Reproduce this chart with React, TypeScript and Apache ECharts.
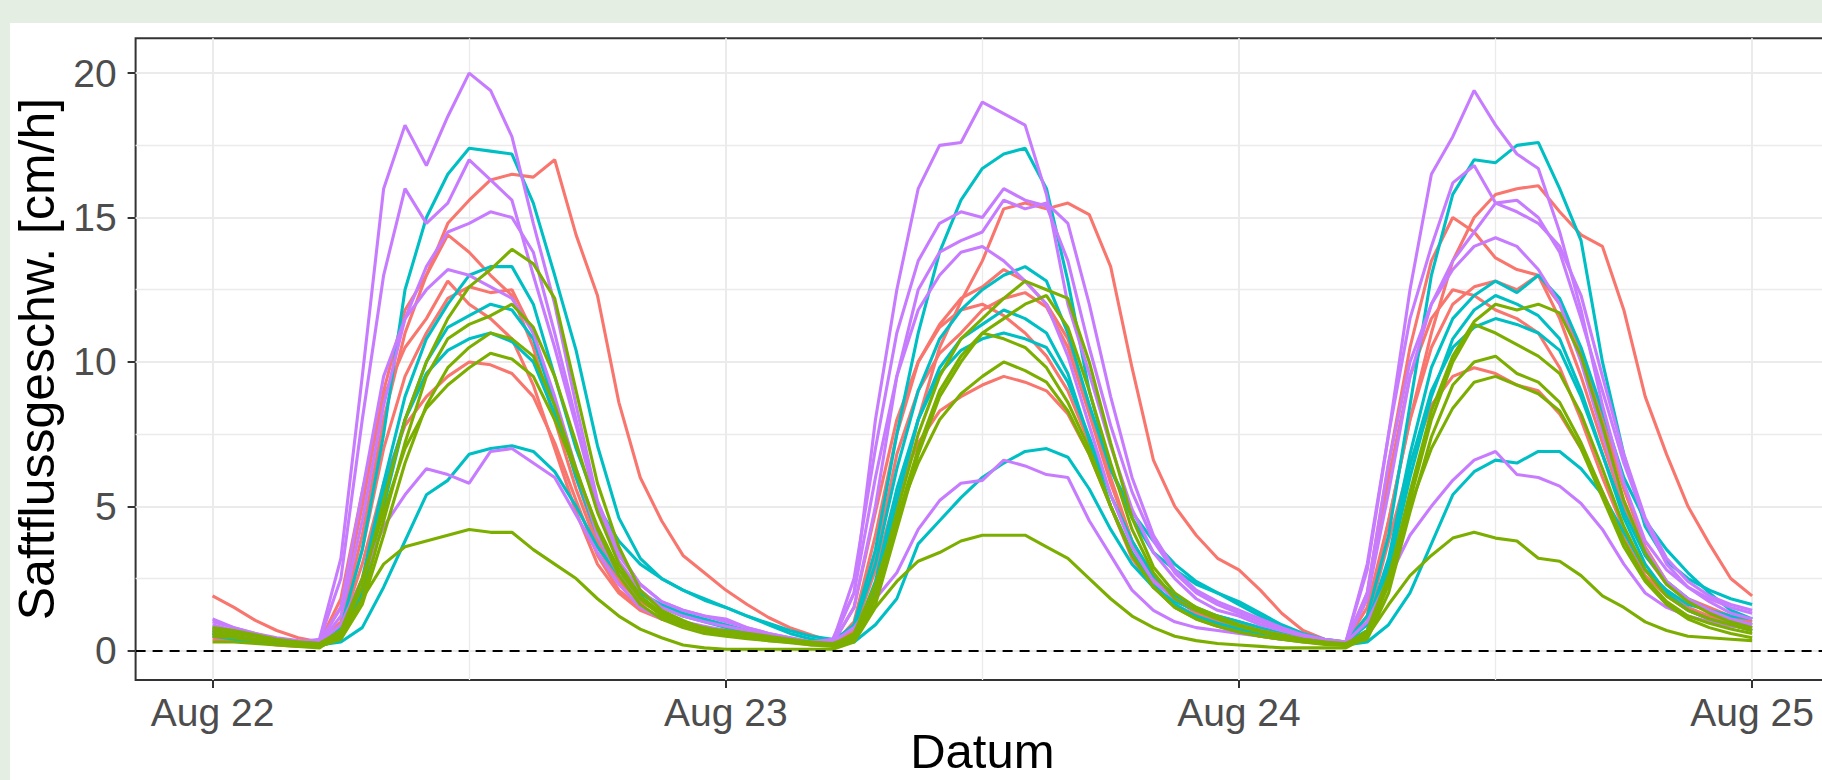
import React, { useEffect, useRef } from "react";
import * as echarts from "echarts";

// Hours since Aug 22 00:00 (hourly readings)
const HOURS: number[] = Array.from({ length: 73 }, (_, i) => i);

const X_TICKS = [0, 24, 48, 72];
const X_TICK_LABELS = ["Aug 22", "Aug 23", "Aug 24", "Aug 25"];
const X_MINOR = [12, 36, 60];
const Y_TICKS = [0, 5, 10, 15, 20];
const Y_MINOR = [2.5, 7.5, 12.5, 17.5];

// red group
const R1 = [1.9,1.5,1.05,0.7,0.45,0.3,1.0,4.0,8.0,11.0,13.0,14.8,15.6,16.3,16.5,16.4,17.0,14.4,12.3,8.6,6.0,4.5,3.3,2.7,
2.1,1.6,1.15,0.8,0.55,0.3,0.6,2.2,5.0,8.0,10.5,12.1,13.5,15.3,15.5,15.3,15.5,15.1,13.3,9.8,6.6,5.0,4.0,3.2,
2.8,2.1,1.3,0.7,0.4,0.3,1.5,4.5,8.0,11.0,13.5,15.0,15.8,16.0,16.1,15.2,14.4,14.0,11.8,8.8,6.8,5.0,3.7,2.5,
1.9];
const R2 = [0.6,0.5,0.4,0.3,0.2,0.3,1.5,5.0,9.0,11.8,13.0,14.4,13.8,13.0,12.3,10.5,8.0,5.6,3.6,2.4,1.7,1.3,1.0,0.8,
0.7,0.55,0.45,0.35,0.3,0.2,1.0,4.0,7.5,10.0,11.3,12.2,12.6,13.2,12.8,12.0,10.8,8.5,6.0,3.8,2.5,1.8,1.3,1.0,
0.8,0.6,0.5,0.4,0.3,0.3,2.0,6.5,10.5,13.5,15.0,14.5,13.6,13.2,13.0,11.5,9.5,7.2,5.0,3.3,2.3,1.7,1.4,1.2,
1.1];
const R3 = [0.5,0.45,0.35,0.25,0.2,0.2,0.9,3.5,7.0,9.5,11.0,12.2,12.6,12.4,12.5,11.0,8.5,6.0,3.8,2.5,1.8,1.3,1.0,0.8,
0.7,0.55,0.45,0.35,0.25,0.2,0.8,3.2,6.8,9.0,10.3,11.0,11.8,12.2,12.4,11.9,10.5,8.2,5.8,3.8,2.5,1.8,1.4,1.1,
0.9,0.7,0.5,0.4,0.3,0.25,1.2,4.5,8.0,10.5,12.0,12.6,12.8,12.5,13.0,12.0,10.4,8.0,5.6,3.6,2.4,1.8,1.5,1.2,
1.0];
const R4 = [0.7,0.6,0.45,0.35,0.25,0.3,1.8,5.5,8.8,10.5,11.5,12.8,12.0,11.5,10.8,9.2,7.0,4.8,3.0,2.0,1.4,1.1,0.9,0.7,
0.6,0.5,0.4,0.3,0.25,0.25,1.5,4.8,8.0,10.0,11.2,11.8,12.0,11.6,11.0,10.2,9.0,7.2,5.0,3.2,2.2,1.6,1.2,0.9,
0.7,0.55,0.45,0.35,0.3,0.3,1.8,6.0,9.5,11.5,12.5,12.3,11.8,11.5,11.0,9.8,8.0,6.0,4.2,2.8,2.0,1.5,1.2,1.0,
0.8];
const R5 = [0.4,0.35,0.3,0.2,0.15,0.15,0.8,3.0,5.8,7.8,8.8,9.5,10.0,9.9,9.6,8.8,7.2,5.2,3.3,2.1,1.5,1.1,0.9,0.7,
0.6,0.5,0.4,0.3,0.2,0.2,0.7,2.8,5.5,7.2,8.3,8.8,9.2,9.5,9.3,9.0,8.2,6.8,5.0,3.3,2.2,1.6,1.2,0.9,
0.7,0.55,0.45,0.35,0.25,0.25,1.0,3.8,6.5,8.5,9.5,9.8,9.6,9.2,9.0,8.2,7.0,5.5,3.9,2.6,1.9,1.4,1.1,0.9,
0.7];

// green group
const G1 = [0.8,0.7,0.55,0.4,0.3,0.25,0.6,2.2,5.2,8.0,10.0,11.5,12.6,13.2,13.9,13.4,12.2,9.0,5.8,3.6,2.1,1.4,1.05,0.75,
0.7,0.6,0.5,0.4,0.3,0.25,0.5,2.0,4.8,7.5,9.5,10.8,11.5,12.2,12.8,12.5,12.2,10.0,7.2,4.6,2.9,2.0,1.5,1.2,
0.9,0.7,0.55,0.4,0.3,0.25,0.6,2.5,5.5,8.3,10.2,11.4,12.0,11.8,12.0,11.7,10.2,7.8,5.2,3.4,2.3,1.7,1.3,1.0,
0.8];
const G2 = [0.6,0.5,0.4,0.3,0.25,0.2,0.5,1.8,4.5,7.2,9.5,10.8,11.3,11.6,12.0,11.2,9.5,7.2,4.8,3.0,1.9,1.3,1.0,0.8,
0.65,0.55,0.45,0.35,0.3,0.2,0.4,1.8,4.5,7.0,9.0,10.2,11.0,11.5,12.0,12.3,11.2,9.0,6.5,4.2,2.7,1.8,1.4,1.1,
0.85,0.65,0.5,0.4,0.3,0.2,0.5,2.3,5.2,8.0,10.0,11.3,11.0,10.6,10.2,9.6,8.2,6.3,4.3,2.8,1.9,1.4,1.1,0.9,
0.7];
const G3 = [0.5,0.45,0.35,0.3,0.2,0.15,0.4,1.6,4.0,6.5,8.5,9.8,10.5,11.0,10.8,10.2,8.5,6.3,4.2,2.6,1.6,1.1,0.8,0.6,
0.5,0.42,0.35,0.28,0.2,0.15,0.35,1.6,4.2,6.8,8.8,10.0,11.0,10.8,10.5,9.8,8.6,7.0,5.0,3.3,2.2,1.5,1.1,0.85,
0.65,0.5,0.4,0.3,0.22,0.18,0.4,2.0,4.8,7.4,9.2,10.0,10.2,9.6,9.3,8.6,7.2,5.5,3.8,2.5,1.7,1.2,0.95,0.75,
0.6];
const G4 = [0.7,0.6,0.5,0.35,0.3,0.25,0.7,2.5,4.8,7.0,8.4,9.2,9.8,10.3,10.1,9.5,8.0,6.2,4.3,2.8,1.8,1.2,0.9,0.7,
0.55,0.45,0.35,0.3,0.25,0.2,0.6,2.3,4.6,6.5,8.0,8.9,9.5,10.0,9.7,9.3,8.3,6.8,5.0,3.3,2.2,1.5,1.1,0.85,
0.65,0.5,0.4,0.3,0.25,0.2,0.7,2.6,5.0,7.0,8.4,9.3,9.5,9.2,8.9,8.3,7.0,5.3,3.6,2.4,1.6,1.1,0.8,0.6,
0.45];
const G5 = [0.3,0.3,0.25,0.2,0.15,0.1,0.6,1.8,3.0,3.6,3.8,4.0,4.2,4.1,4.1,3.5,3.0,2.5,1.8,1.2,0.75,0.45,0.2,0.1,
0.05,0.05,0.05,0.05,0.05,0.05,0.3,1.5,2.4,3.1,3.4,3.8,4.0,4.0,4.0,3.6,3.2,2.5,1.8,1.2,0.8,0.5,0.35,0.25,
0.2,0.15,0.1,0.1,0.1,0.1,0.5,1.6,2.6,3.3,3.9,4.1,3.9,3.8,3.2,3.1,2.6,1.9,1.5,1.0,0.7,0.5,0.45,0.4,
0.35];

// cyan group
const C1 = [0.8,0.65,0.5,0.4,0.3,0.25,0.8,3.5,7.5,12.5,15.0,16.5,17.4,17.3,17.2,15.5,13.0,10.4,7.1,4.6,3.2,2.5,2.1,1.75,
1.5,1.2,0.9,0.6,0.4,0.3,0.9,3.5,7.5,11.0,13.8,15.6,16.7,17.2,17.4,16.0,12.8,9.0,6.3,4.6,3.4,2.8,2.3,2.0,
1.6,1.2,0.8,0.5,0.35,0.3,1.2,4.0,8.5,13.0,15.8,17.0,16.9,17.5,17.6,16.0,14.2,10.0,6.8,4.3,3.1,2.5,2.1,1.8,
1.6];
const C2 = [0.6,0.5,0.4,0.3,0.25,0.2,0.6,2.5,5.8,8.8,10.8,12.0,13.0,13.3,13.3,12.0,9.5,7.0,5.0,3.8,3.0,2.5,2.1,1.8,
1.5,1.2,0.95,0.7,0.5,0.4,0.8,3.0,6.3,9.0,10.8,11.8,12.5,13.0,13.3,12.8,11.0,8.5,6.3,4.8,3.8,3.0,2.4,2.0,
1.7,1.3,0.9,0.6,0.4,0.3,0.9,3.2,6.8,9.8,11.5,12.3,12.8,12.4,13.0,12.2,10.5,8.3,6.0,4.5,3.5,2.7,2.0,1.4,
1.1];
const C3 = [0.5,0.4,0.3,0.25,0.2,0.15,0.4,2.0,5.0,8.0,10.0,11.2,11.6,12.0,11.8,10.8,8.5,6.0,4.0,2.6,1.8,1.3,1.0,0.8,
0.65,0.5,0.4,0.3,0.25,0.2,0.5,2.2,5.2,8.0,9.8,10.8,11.3,11.8,11.5,11.0,9.6,7.3,5.0,3.4,2.3,1.6,1.2,0.95,
0.75,0.6,0.45,0.35,0.25,0.2,0.6,2.8,6.0,8.8,10.8,11.8,12.3,12.0,11.6,10.8,9.0,6.8,4.6,3.0,2.0,1.4,1.1,0.9,
0.7];
const C4 = [0.7,0.55,0.45,0.35,0.3,0.2,0.5,2.2,5.5,8.0,9.6,10.4,10.8,11.0,10.7,10.0,8.2,6.1,4.2,2.8,2.0,1.5,1.2,1.0,
0.8,0.65,0.5,0.4,0.3,0.2,0.5,2.4,5.6,8.0,9.6,10.4,10.8,11.0,10.8,10.5,9.3,7.4,5.4,3.8,2.6,1.9,1.5,1.2,
1.0,0.8,0.6,0.45,0.35,0.3,0.7,3.0,6.4,9.0,10.5,11.2,11.5,11.3,11.0,10.4,8.8,6.8,4.8,3.3,2.4,1.8,1.4,1.1,
0.9];
const C5 = [0.6,0.5,0.4,0.3,0.25,0.2,0.3,0.8,2.2,3.8,5.4,5.9,6.8,7.0,7.1,6.9,6.2,5.0,3.6,2.6,2.0,1.6,1.3,1.1,
0.9,0.7,0.5,0.4,0.25,0.2,0.3,0.9,1.8,3.7,4.5,5.3,6.0,6.5,6.9,7.0,6.7,5.6,4.2,3.0,2.2,1.7,1.4,1.2,
1.0,0.8,0.6,0.45,0.3,0.2,0.3,0.9,2.0,3.7,5.4,6.2,6.6,6.5,6.9,6.9,6.3,5.4,4.1,2.8,2.1,1.6,1.4,1.2,
1.1];

// purple group
const P1 = [1.1,0.8,0.6,0.4,0.3,0.4,3.2,9.5,16.0,18.2,16.8,18.5,20.0,19.4,17.8,14.8,12.0,8.5,5.2,3.4,2.3,1.7,1.4,1.2,
1.1,0.8,0.6,0.45,0.3,0.4,2.0,8.0,12.5,16.0,17.5,17.6,19.0,18.6,18.2,15.8,12.0,9.6,7.1,4.9,3.4,2.5,1.8,1.4,
1.2,0.9,0.7,0.5,0.35,0.3,3.0,7.5,12.5,16.5,17.8,19.4,18.2,17.2,16.7,14.5,11.8,8.5,5.8,3.8,2.8,2.2,1.7,1.3,
1.1];
const P2 = [0.9,0.7,0.5,0.35,0.3,0.35,2.5,8.0,13.0,16.0,14.8,15.5,17.0,16.3,15.6,13.0,10.5,7.8,5.0,3.3,2.3,1.7,1.4,1.2,
1.0,0.8,0.6,0.45,0.3,0.3,2.5,7.0,11.0,13.5,14.8,15.2,15.0,16.0,15.6,15.4,13.5,10.5,7.8,5.5,3.8,2.7,2.0,1.6,
1.3,1.0,0.75,0.5,0.35,0.3,2.8,7.5,11.5,14.0,16.2,16.8,15.5,15.2,14.8,14.0,12.3,9.5,6.8,4.6,3.2,2.4,1.9,1.6,
1.4];
const P3 = [0.7,0.55,0.45,0.35,0.25,0.25,1.2,4.5,8.5,11.5,13.3,14.5,14.8,15.2,15.0,13.8,11.0,8.0,5.0,3.1,2.1,1.5,1.2,1.0,
0.85,0.7,0.55,0.4,0.3,0.25,1.5,5.0,9.5,12.5,13.8,14.2,14.5,15.6,15.3,15.5,14.8,12.0,8.8,6.0,4.0,2.8,2.1,1.7,
1.4,1.1,0.8,0.55,0.4,0.3,1.8,5.5,9.5,12.0,13.5,14.5,15.5,15.6,15.0,13.8,11.5,9.0,6.5,4.5,3.0,2.2,1.8,1.5,
1.3];
const P4 = [1.0,0.8,0.6,0.45,0.35,0.3,0.9,2.5,4.3,5.4,6.3,6.1,5.8,6.9,7.0,6.5,6.0,4.7,3.4,2.3,1.5,1.1,0.9,0.75,
0.65,0.55,0.45,0.35,0.3,0.3,0.8,1.8,2.7,4.2,5.2,5.8,5.9,6.6,6.4,6.1,6.0,4.5,3.3,2.1,1.4,1.0,0.8,0.7,
0.6,0.5,0.4,0.35,0.3,0.3,1.0,2.5,4.0,5.0,5.9,6.6,6.9,6.1,6.0,5.7,5.1,4.2,3.0,2.0,1.5,1.2,1.0,0.85,
0.8];
const P5 = [0.8,0.6,0.5,0.4,0.3,0.3,1.5,5.5,9.5,11.5,12.5,13.2,13.0,12.6,12.2,11.0,8.8,6.3,4.0,2.6,1.8,1.3,1.0,0.85,
0.7,0.55,0.45,0.35,0.3,0.3,2.0,6.0,9.5,11.8,13.0,13.8,14.0,13.5,12.8,12.0,10.2,7.8,5.4,3.6,2.4,1.8,1.4,1.1,
0.9,0.7,0.55,0.4,0.3,0.3,2.0,6.5,10.0,12.0,13.2,14.0,14.3,14.0,13.2,12.0,10.0,7.5,5.2,3.5,2.4,1.8,1.4,1.1,
0.9];

const RED = "#F8766D";
const GREEN = "#7CAE00";
const CYAN = "#00BFC4";
const PURPLE = "#C77CFF";

const SERIES_LIST: { name: string; color: string; values: number[] }[] = [
  { name: "R1", color: RED, values: R1 },
  { name: "R2", color: RED, values: R2 },
  { name: "R3", color: RED, values: R3 },
  { name: "R4", color: RED, values: R4 },
  { name: "R5", color: RED, values: R5 },
  { name: "C1", color: CYAN, values: C1 },
  { name: "C2", color: CYAN, values: C2 },
  { name: "C3", color: CYAN, values: C3 },
  { name: "C4", color: CYAN, values: C4 },
  { name: "C5", color: CYAN, values: C5 },
  { name: "P1", color: PURPLE, values: P1 },
  { name: "P2", color: PURPLE, values: P2 },
  { name: "P3", color: PURPLE, values: P3 },
  { name: "P4", color: PURPLE, values: P4 },
  { name: "P5", color: PURPLE, values: P5 },
  { name: "G1", color: GREEN, values: G1 },
  { name: "G2", color: GREEN, values: G2 },
  { name: "G3", color: GREEN, values: G3 },
  { name: "G4", color: GREEN, values: G4 },
  { name: "G5", color: GREEN, values: G5 },
];

const FONT = "'Liberation Sans', Arial, Helvetica, sans-serif";

export default function App() {
  const ref = useRef<HTMLDivElement>(null);

  useEffect(() => {
    if (!ref.current) return;
    const chart = echarts.init(ref.current, undefined, { renderer: "svg" });

    const gridLines: any[] = [
      ...Y_MINOR.map((v) => ({ yAxis: v, lineStyle: { color: "#ebebeb", width: 1.3, type: "solid" } })),
      ...X_MINOR.map((v) => ({ xAxis: v, lineStyle: { color: "#ebebeb", width: 1.3, type: "solid" } })),
      ...Y_TICKS.map((v) => ({ yAxis: v, lineStyle: { color: "#ebebeb", width: 2, type: "solid" } })),
      ...X_TICKS.map((v) => ({ xAxis: v, lineStyle: { color: "#ebebeb", width: 2, type: "solid" } })),
    ];

    const series: any[] = SERIES_LIST.map((s, i) => {
      const item: any = {
        name: s.name,
        type: "line",
        data: HOURS.map((h, k) => [h, s.values[k]]),
        showSymbol: false,
        symbol: "none",
        silent: true,
        z: 2,
        lineStyle: { color: s.color, width: 3.1 },
        itemStyle: { color: s.color },
      };
      if (i === 0) {
        item.markLine = {
          silent: true,
          z: 1,
          symbol: ["none", "none"],
          label: { show: false },
          emphasis: { disabled: true },
          animation: false,
          data: gridLines,
        };
      }
      if (i === SERIES_LIST.length - 1) {
        item.markLine = {
          silent: true,
          z: 10,
          symbol: ["none", "none"],
          label: { show: false },
          emphasis: { disabled: true },
          animation: false,
          data: [{ yAxis: 0, lineStyle: { color: "#000000", width: 2, type: [10, 7] } }],
        };
      }
      return item;
    });

    chart.setOption({
      animation: false,
      backgroundColor: "#ffffff",
      grid: {
        left: 125.6,
        top: 15.2,
        width: 1693.5,
        height: 641.7,
        show: true,
        borderColor: "#333333",
        borderWidth: 2,
        backgroundColor: "transparent",
        containLabel: false,
        outerBoundsMode: "none",
      },
      xAxis: {
        type: "value",
        min: -3.6,
        max: 75.6,
        axisLine: { show: false, onZero: false },
        splitLine: { show: false },
        minorSplitLine: { show: false },
        axisTick: {
          show: true,
          customValues: X_TICKS,
          length: 8,
          lineStyle: { color: "#333333", width: 2 },
        },
        axisLabel: {
          customValues: X_TICKS,
          formatter: (v: number) => X_TICK_LABELS[X_TICKS.indexOf(v)] ?? "",
          color: "#4d4d4d",
          fontSize: 39,
          fontFamily: FONT,
          margin: 13,
          hideOverlap: false,
        },
        name: "Datum",
        nameLocation: "middle",
        nameGap: 48,
        nameMoveOverlap: false,
        nameTextStyle: { color: "#000000", fontSize: 49, lineHeight: 46, fontFamily: FONT },
      },
      yAxis: {
        type: "value",
        min: -1.01,
        max: 21.21,
        axisLine: { show: false, onZero: false },
        splitLine: { show: false },
        minorSplitLine: { show: false },
        axisTick: {
          show: true,
          customValues: Y_TICKS,
          length: 8,
          lineStyle: { color: "#333333", width: 2 },
        },
        axisLabel: {
          customValues: Y_TICKS,
          formatter: (v: number) => String(v),
          color: "#4d4d4d",
          fontSize: 39,
          fontFamily: FONT,
          margin: 19,
          padding: [8, 0, 0, 0],
        },
        name: "Saftflussgeschw. [cm/h]",
        nameLocation: "middle",
        nameGap: 37,
        nameTextStyle: { color: "#000000", fontSize: 50, fontFamily: FONT },
      },
      series,
    });

    return () => chart.dispose();
  }, []);

  return (
    <div
      style={{
        position: "fixed",
        left: 0,
        top: 0,
        width: 1822,
        height: 780,
        background: "#e4eee2",
        overflow: "hidden",
      }}
    >
      <div
        ref={ref}
        style={{
          position: "absolute",
          left: 10,
          top: 23,
          width: 1812,
          height: 757,
          background: "#ffffff",
        }}
      />
    </div>
  );
}
